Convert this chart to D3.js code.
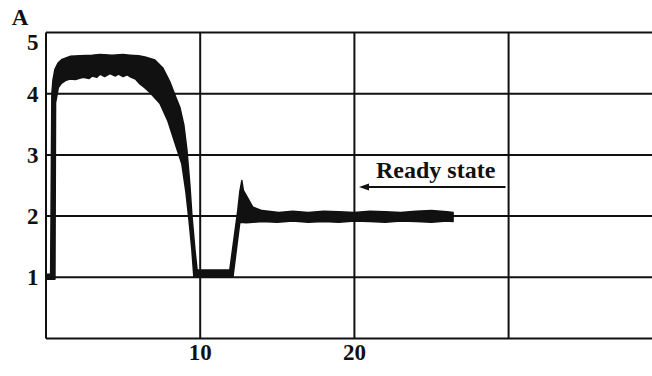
<!DOCTYPE html>
<html>
<head>
<meta charset="utf-8">
<script src="https://cdn.jsdelivr.net/npm/d3@7"></script>
<style>
  html, body { margin: 0; padding: 0; background: #fff; }
  svg { display: block; }
</style>
</head>
<body>
<div id="chart"></div>
<script>
// ticks
const xTicks = [10, 20, 30];
const xTickLabels = ["10", "20"];
const yTicks = [1, 2, 3, 4, 5];
const yAxisTitle = "A";
const annotationText = "Ready state";

// trace envelope: [time, value]
const upperEdge = [
  [0.05, 1.05], [0.30, 1.05], [0.34, 2.5], [0.38, 4.0], [0.45, 4.22], [0.58, 4.4],
  [0.78, 4.5], [1.04, 4.56], [1.56, 4.61], [2.2, 4.62], [3.0, 4.63], [3.5, 4.64],
  [4.3, 4.63], [5.0, 4.64], [5.44, 4.63], [6.0, 4.62], [6.42, 4.6], [7.06, 4.55],
  [7.58, 4.42], [8.04, 4.19], [8.36, 3.98], [8.68, 3.78], [8.94, 3.49], [9.14, 3.08],
  [9.33, 2.51], [9.46, 2.02], [9.66, 1.45], [9.8, 1.12], [11.92, 1.12], [12.44, 2.1],
  [12.57, 2.4], [12.7, 2.58], [12.8, 2.42], [13.03, 2.32], [13.4, 2.15], [14.0, 2.09],
  [15.1, 2.06], [16.0, 2.08], [17.0, 2.06], [18.0, 2.08], [19.0, 2.07], [20.0, 2.06],
  [21.0, 2.08], [22.0, 2.07], [23.0, 2.06], [24.0, 2.08], [25.0, 2.09], [26.0, 2.07],
  [26.4, 2.06]
];
const lowerEdge = [
  [0.05, 0.97], [0.58, 0.97], [0.62, 3.85], [0.8, 4.1], [1.0, 4.17], [1.3, 4.22],
  [1.56, 4.24], [1.9, 4.23], [2.4, 4.27], [2.8, 4.25], [3.0, 4.29], [3.3, 4.27],
  [3.5, 4.32], [3.8, 4.28], [4.15, 4.33], [4.5, 4.29], [4.7, 4.32], [5.0, 4.28],
  [5.25, 4.31], [5.5, 4.27], [5.8, 4.24], [6.09, 4.16], [6.4, 4.1], [6.74, 4.02],
  [7.39, 3.84], [7.91, 3.55], [8.36, 3.2], [8.81, 2.85], [9.07, 2.4], [9.27, 1.94],
  [9.46, 1.45], [9.59, 1.0], [12.12, 1.0], [12.57, 1.9], [13.0, 1.89], [14.0, 1.91],
  [15.0, 1.9], [16.0, 1.92], [17.0, 1.9], [18.0, 1.91], [19.0, 1.9], [20.0, 1.92],
  [21.0, 1.91], [22.0, 1.9], [23.0, 1.92], [24.0, 1.91], [25.0, 1.9], [26.0, 1.92],
  [26.4, 1.91]
];

// annotation arrow: from time to time, at value
const arrowFrom = 29.8, arrowTo = 20.3, arrowValue = 2.475;
const labelTime = 21.4, labelValue = 2.63;

const width = 652, height = 376;
const ink = "#111";
const serif = "'Liberation Serif', 'DejaVu Serif', serif";

let svg = d3.select("#chart").append("svg")
    .attr("width", width)
    .attr("height", height);

let x = d3.scaleLinear().domain([0, 39.3]).range([46, 652]);
let y = d3.scaleLinear().domain([0, 5]).range([338.5, 32.5]);

// grid
let grid = svg.append("g")
    .attr("stroke", ink)
    .attr("stroke-width", 2);

grid.selectAll("line.h")
    .data([0].concat(yTicks))
    .enter().append("line")
    .attr("class", "h")
    .attr("x1", x(0))
    .attr("x2", width)
    .attr("y1", d => y(d))
    .attr("y2", d => y(d));

grid.selectAll("line.v")
    .data([0].concat(xTicks))
    .enter().append("line")
    .attr("class", "v")
    .attr("x1", d => x(d))
    .attr("x2", d => x(d))
    .attr("y1", y(5))
    .attr("y2", y(0));

// tick labels
svg.append("g")
    .attr("font-family", serif)
    .attr("font-weight", "bold")
    .attr("font-size", 23)
    .attr("fill", ink)
    .selectAll("text")
    .data(yTicks)
    .enter().append("text")
    .attr("x", 27)
    .attr("y", d => y(d) + (d === 5 ? 9 : 0))
    .attr("dy", "0.35em")
    .text(d => d);

svg.append("g")
    .attr("font-family", serif)
    .attr("font-weight", "bold")
    .attr("font-size", 23)
    .attr("fill", ink)
    .attr("text-anchor", "middle")
    .selectAll("text")
    .data(xTickLabels)
    .enter().append("text")
    .attr("x", d => x(+d))
    .attr("y", 360)
    .text(d => d);

svg.append("text")
    .attr("x", 20)
    .attr("y", 25)
    .attr("text-anchor", "middle")
    .attr("font-family", serif)
    .attr("font-weight", "bold")
    .attr("font-size", 23)
    .attr("fill", ink)
    .text(yAxisTitle);

// trace
let line = d3.line()
    .x(d => x(d[0]))
    .y(d => y(d[1]));

svg.append("path")
    .attr("d", line(upperEdge.concat(lowerEdge.slice().reverse())) + "Z")
    .attr("fill", ink)
    .attr("stroke", ink)
    .attr("stroke-width", 1.5)
    .attr("stroke-linejoin", "round");

// annotation
let ay = y(arrowValue);
svg.append("line")
    .attr("x1", x(arrowTo) + 4)
    .attr("x2", x(arrowFrom))
    .attr("y1", ay)
    .attr("y2", ay)
    .attr("stroke", ink)
    .attr("stroke-width", 2);

svg.append("path")
    .attr("d", "M" + x(arrowTo) + "," + ay + "l10,-3.5l0,7Z")
    .attr("fill", ink);

svg.append("text")
    .attr("x", x(labelTime))
    .attr("y", y(labelValue))
    .attr("font-family", serif)
    .attr("font-weight", "bold")
    .attr("font-size", 24)
    .attr("fill", ink)
    .text(annotationText);
</script>
</body>
</html>
